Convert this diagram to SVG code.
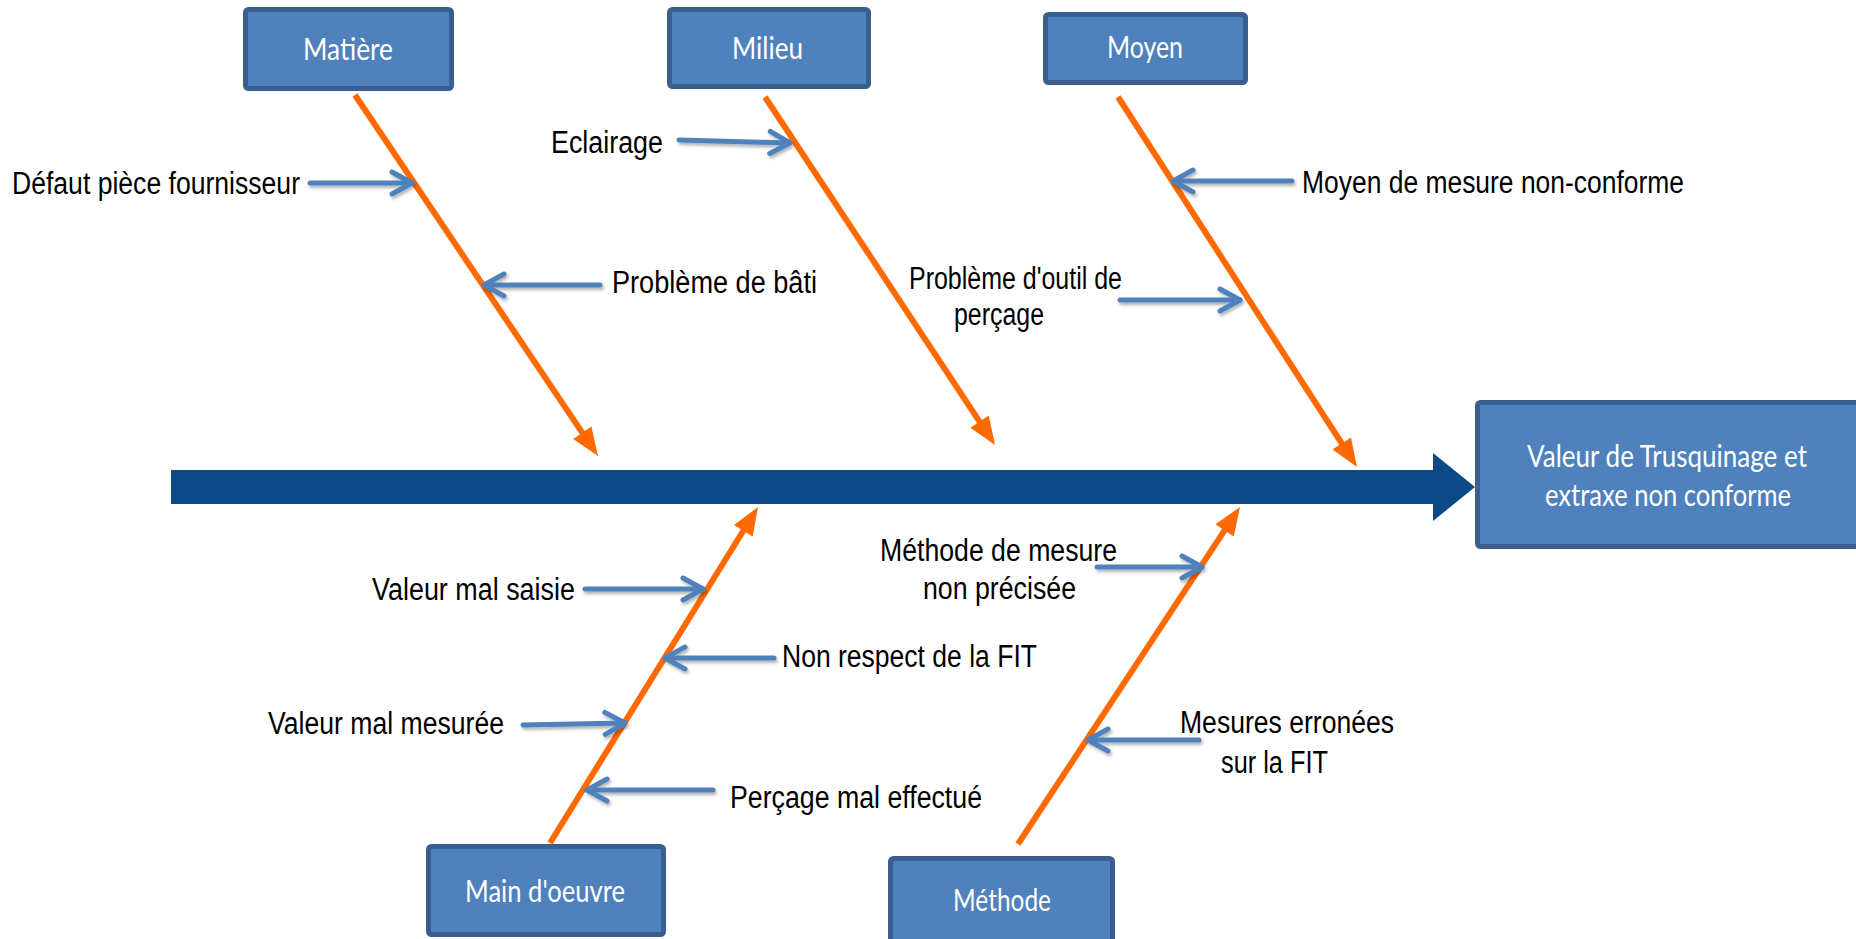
<svg xmlns="http://www.w3.org/2000/svg" width="1856" height="939" viewBox="0 0 1856 939">
<style>
.box{fill:#4F81BD;stroke:#3A5F8F;stroke-width:5}
.bt{font-family:Lato,"Open Sans",sans-serif;font-size:30px;fill:#FFFFFF}
.lt{font-family:"Liberation Sans",Arial,sans-serif;font-size:31px;fill:#000000}
.bone{stroke:#FF6A00;stroke-width:6;fill:none}
.cause{stroke:#4F81BD;stroke-width:5;fill:none;stroke-linecap:round}
</style>
<defs>
<filter id="sh" filterUnits="userSpaceOnUse" x="0" y="0" width="1856" height="939">
<feDropShadow dx="1.5" dy="2.5" stdDeviation="1.5" flood-color="#000" flood-opacity="0.3"/>
</filter>
<marker id="oh" markerUnits="userSpaceOnUse" viewBox="-10 -14 32 28" refX="0" refY="0" markerWidth="32" markerHeight="28" orient="auto">
<path d="M-8,-11 L20,0 L-8,11 Z" fill="#FF6A00"/>
</marker>
<marker id="bh" markerUnits="userSpaceOnUse" viewBox="-26 -16 30 32" refX="0" refY="0" markerWidth="30" markerHeight="32" orient="auto">
<path d="M-20,-11 L0,0 L-20,11" fill="none" stroke="#4F81BD" stroke-width="5" stroke-linecap="round" stroke-linejoin="round"/>
</marker>
</defs>
<rect width="1856" height="939" fill="#FFFFFF"/>
<g id="connectors">
<path id="spine" d="M171,470 H1433 V453 L1475,487 L1433,521 V504 H171 Z" fill="#0B4A87"/>
<line class="bone" x1="355" y1="95" x2="586.8" y2="439.4" marker-end="url(#oh)"/>
<line class="bone" x1="765" y1="97" x2="984" y2="428.3" marker-end="url(#oh)"/>
<line class="bone" x1="1118" y1="97" x2="1346.1" y2="450.2" marker-end="url(#oh)"/>
<line class="bone" x1="550" y1="843" x2="747.5" y2="524" marker-end="url(#oh)"/>
<line class="bone" x1="1018" y1="844" x2="1229" y2="523.7" marker-end="url(#oh)"/>
<g filter="url(#sh)">
<line class="cause" x1="310" y1="183" x2="412" y2="183" marker-end="url(#bh)"/>
<line class="cause" x1="679" y1="140" x2="790" y2="143" marker-end="url(#bh)"/>
<line class="cause" x1="600" y1="285" x2="484" y2="285" marker-end="url(#bh)"/>
<line class="cause" x1="1120" y1="300" x2="1240" y2="300" marker-end="url(#bh)"/>
<line class="cause" x1="1292" y1="181" x2="1173" y2="181" marker-end="url(#bh)"/>
<line class="cause" x1="585" y1="589" x2="703" y2="589" marker-end="url(#bh)"/>
<line class="cause" x1="774" y1="658" x2="665" y2="658" marker-end="url(#bh)"/>
<line class="cause" x1="523" y1="725" x2="625" y2="723" marker-end="url(#bh)"/>
<line class="cause" x1="713" y1="790" x2="587" y2="790" marker-end="url(#bh)"/>
<line class="cause" x1="1097" y1="567" x2="1202" y2="567" marker-end="url(#bh)"/>
<line class="cause" x1="1199" y1="740" x2="1088" y2="740" marker-end="url(#bh)"/>
</g>
</g>
<g id="matiere"><rect class="box" x="245.5" y="9.5" width="206" height="79" rx="3"/><text class="bt" x="303" y="60" textLength="90" lengthAdjust="spacingAndGlyphs">Matière</text></g>
<g id="milieu"><rect class="box" x="669.5" y="9.5" width="199" height="77" rx="3"/><text class="bt" x="732" y="59" textLength="71" lengthAdjust="spacingAndGlyphs">Milieu</text></g>
<g id="moyen"><rect class="box" x="1045.5" y="14.5" width="200" height="68" rx="3"/><text class="bt" x="1107" y="58" textLength="76" lengthAdjust="spacingAndGlyphs">Moyen</text></g>
<g id="main-oeuvre"><rect class="box" x="428.5" y="846.5" width="235" height="88" rx="3"/><text class="bt" x="465" y="902" textLength="160" lengthAdjust="spacingAndGlyphs">Main d'oeuvre</text></g>
<g id="methode"><rect class="box" x="890.5" y="858.5" width="222" height="92" rx="3"/><text class="bt" x="953" y="911" textLength="98" lengthAdjust="spacingAndGlyphs">Méthode</text></g>
<g id="effet"><rect class="box" x="1477.5" y="402.5" width="400" height="144" rx="3"/><text class="bt" x="1527" y="467" textLength="280" lengthAdjust="spacingAndGlyphs">Valeur de Trusquinage et</text><text class="bt" x="1545" y="506" textLength="246" lengthAdjust="spacingAndGlyphs">extraxe non conforme</text></g>
<g id="causes">
<text class="lt" x="12" y="194" textLength="288" lengthAdjust="spacingAndGlyphs">Défaut pièce fournisseur</text>
<text class="lt" x="551" y="153" textLength="112" lengthAdjust="spacingAndGlyphs">Eclairage</text>
<text class="lt" x="612" y="293" textLength="205" lengthAdjust="spacingAndGlyphs">Problème de bâti</text>
<text class="lt" x="909" y="289" textLength="213" lengthAdjust="spacingAndGlyphs">Problème d'outil de</text>
<text class="lt" x="954" y="325" textLength="90" lengthAdjust="spacingAndGlyphs">perçage</text>
<text class="lt" x="1302" y="193" textLength="382" lengthAdjust="spacingAndGlyphs">Moyen de mesure non-conforme</text>
<text class="lt" x="372" y="600" textLength="203" lengthAdjust="spacingAndGlyphs">Valeur mal saisie</text>
<text class="lt" x="782" y="667" textLength="255" lengthAdjust="spacingAndGlyphs">Non respect de la FIT</text>
<text class="lt" x="268" y="734" textLength="236" lengthAdjust="spacingAndGlyphs">Valeur mal mesurée</text>
<text class="lt" x="730" y="808" textLength="252" lengthAdjust="spacingAndGlyphs">Perçage mal effectué</text>
<text class="lt" x="880" y="561" textLength="237" lengthAdjust="spacingAndGlyphs">Méthode de mesure</text>
<text class="lt" x="923" y="599" textLength="153" lengthAdjust="spacingAndGlyphs">non précisée</text>
<text class="lt" x="1180" y="733" textLength="214" lengthAdjust="spacingAndGlyphs">Mesures erronées</text>
<text class="lt" x="1221" y="773" textLength="107" lengthAdjust="spacingAndGlyphs">sur la FIT</text>
</g>
</svg>
